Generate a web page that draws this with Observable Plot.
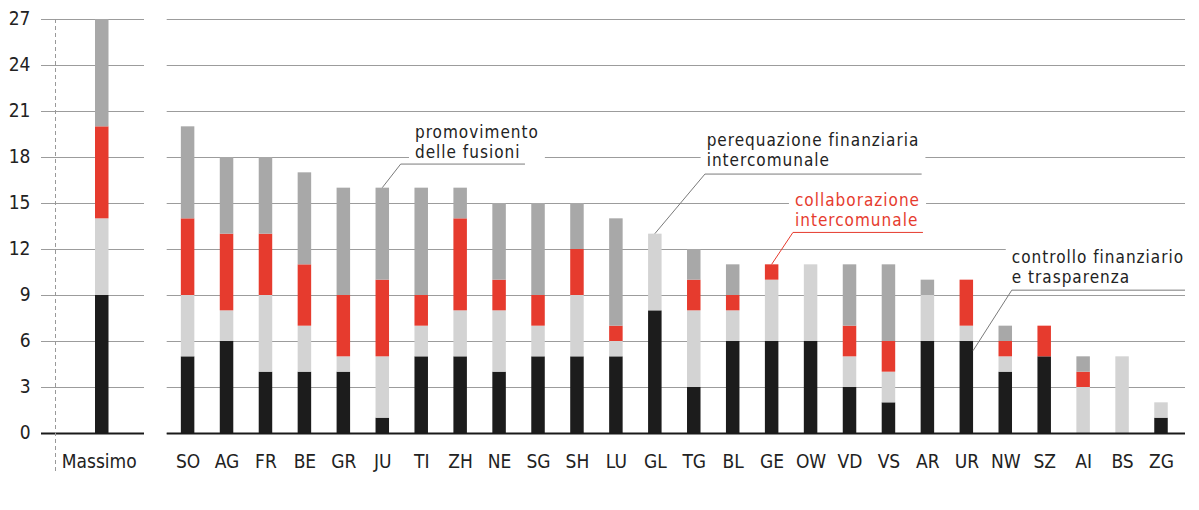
<!DOCTYPE html>
<html>
<head>
<meta charset="utf-8">
<script src="https://cdn.jsdelivr.net/npm/d3@7"></script>
<script src="https://cdn.jsdelivr.net/npm/@observablehq/plot@0.6"></script>
<style>
  html, body { margin: 0; padding: 0; background: #fff; }
  #chart { position: relative; width: 1199px; height: 510px; display: flex; flex-direction: row; overflow: hidden; }
  #chart svg { display: block; flex: none; }
</style>
</head>
<body>
<div id="chart"></div>
<script>
// ---------- data ----------
const categories = [
  "controllo finanziario e trasparenza",
  "perequazione finanziaria intercomunale",
  "collaborazione intercomunale",
  "promovimento delle fusioni"
];
const maxLabel = "Massimo";
const maxValues = [9, 5, 6, 7];
const cantons = ["SO","AG","FR","BE","GR","JU","TI","ZH","NE","SG","SH","LU","GL","TG","BL","GE","OW","VD","VS","AR","UR","NW","SZ","AI","BS","ZG"];
const controllo      = [5,6,4,4,4,1,5,5,4,5,5,5,8,3,6,6,6,3,2,6,6,4,5,0,0,1];
const perequazione   = [4,2,5,3,1,4,2,3,4,2,4,1,5,5,2,4,5,2,2,3,1,1,0,3,5,1];
const collaborazione = [5,5,4,4,4,5,2,6,2,2,3,1,0,2,1,1,0,2,2,0,3,1,2,1,0,0];
const fusioni        = [6,5,5,6,7,6,7,2,5,6,3,7,0,2,2,0,0,4,5,1,0,1,0,1,0,0];
const yTicks = [0,3,6,9,12,15,18,21,24,27];
const annotationLines = [
  ["promovimento", "delle fusioni"],
  ["perequazione finanziaria", "intercomunale"],
  ["collaborazione", "intercomunale"],
  ["controllo finanziario", "e trasparenza"]
];
const annotationCantons = ["JU", "GL", "GE", "UR"];
const annotationValues = [16, 13, 11, 5.37];

// ---------- styling ----------
const colors = ["#1c1c1c", "#d3d3d3", "#e63b2e", "#a8a8a8"];
const FONT = "'DejaVu Sans Condensed', 'DejaVu Sans', sans-serif";
const textColor = "#222";
const gridColor = "#9c9c9c";
const step = 38.94, bw = 13.5;
const pIn = 1 - bw / step;

const series = [controllo, perequazione, collaborazione, fusioni];
const rows = [];
cantons.forEach((c, i) => series.forEach((s, k) => rows.push({canton: c, cat: categories[k], value: s[i]})));
const maxRows = maxValues.map((v, k) => ({canton: maxLabel, cat: categories[k], value: v}));

const common = {
  height: 510, marginTop: 19, marginBottom: 77,
  y: {domain: [0, 27], axis: null},
  color: {domain: categories, range: colors},
  style: {fontFamily: FONT, fontSize: "19px", color: textColor, background: "white"}
};

// Panel A: Massimo + y axis
const widthA = 155;
const plotA = Plot.plot({
  ...common,
  width: widthA, marginLeft: 41, marginRight: 11,
  x: {domain: [maxLabel], range: [101.75 - step/2, 101.75 + step/2], paddingInner: pIn, paddingOuter: pIn/2, round: false, axis: null},
  marks: [
    Plot.gridY(yTicks, {stroke: gridColor, strokeOpacity: 1}),
    Plot.barY(maxRows, {x: "canton", y: "value", fill: "cat"}),
    Plot.ruleY([0], {stroke: "#1a1a1a", strokeWidth: 2}),
    Plot.axisY(yTicks, {tickSize: 0, tickPadding: 11, fontSize: 19, fill: textColor, tickFormat: d => d, dy: -1, label: null}),
    Plot.axisX({tickSize: 0, tickPadding: 21, fontSize: 19, fill: textColor, dx: -3, label: null})
  ]
});

// Panel B: cantons
const offB = widthA;
const plotB = Plot.plot({
  ...common,
  width: 1199 - widthA, marginLeft: 166.7 - offB, marginRight: 14,
  x: {domain: cantons, range: [187.6 - step/2 - offB, 1161 + step/2 - offB], paddingInner: pIn, paddingOuter: pIn/2, round: false, axis: null},
  marks: [
    Plot.gridY(yTicks, {stroke: gridColor, strokeOpacity: 1}),
    Plot.barY(rows, {x: "canton", y: "value", fill: "cat"}),
    Plot.ruleY([0], {stroke: "#1a1a1a", strokeWidth: 2}),
    Plot.axisX({tickSize: 0, tickPadding: 21, fontSize: 19, fill: textColor, label: null})
  ]
});

const chart = document.getElementById("chart");
chart.appendChild(plotA);
chart.appendChild(plotB);

// dashed separator in panel A
{
  const y = plotA.scale("y");
  d3.select(plotA).append("line")
    .attr("x1", 55.5).attr("x2", 55.5)
    .attr("y1", y.apply(27)).attr("y2", 471)
    .attr("stroke", "#999").attr("stroke-width", 1).attr("stroke-dasharray", "4,3");
}

// annotations in panel B
{
  const x = plotB.scale("x"), y = plotB.scale("y");
  const g = d3.select(plotB).append("g")
    .attr("font-family", FONT).attr("font-size", 17).attr("letter-spacing", "1px")
    .attr("text-anchor", "start");
  // layout (pixels) relative to the anchor point: elbow offset, text offset from elbow, underline length
  const layout = [
    {anchorX: "center", ex: 18.4, ey: -23.6, tx: 14.3, ty: -5.8, len: 124.3, color: "#222", line: "#7a7a7a"},
    {anchorX: "center", ex: 50.1, ey: -59.6, tx: 1.7, ty: -7.6, len: 216.7, color: "#222", line: "#7a7a7a"},
    {anchorX: "center", ex: 21.3, ey: -31.9, tx: 2.0, ty: -6.0, len: 130, color: "#e63b2e", line: "#e63b2e"},
    {anchorX: "right", ex: 38.7, ey: -60.5, tx: 0.0, ty: -7.0, len: null, color: "#222", line: "#7a7a7a"}
  ];
  const frameRight = plotB.getAttribute("width") - 14;
  annotationLines.forEach((lines, i) => {
    const L = layout[i];
    const bx = x.apply(annotationCantons[i]);
    const ax = L.anchorX === "center" ? bx + x.bandwidth / 2 : bx + x.bandwidth;
    const ay = y.apply(annotationValues[i]);
    const exx = ax + L.ex, eyy = ay + L.ey;
    const tx = exx + L.tx, ty = eyy + L.ty;
    const t = g.append("text").attr("fill", L.color).attr("x", tx).attr("y", ty).attr("text-anchor", "start");
    lines.forEach((ln, j) => {
      t.append("tspan").attr("x", tx).attr("y", ty - (lines.length - 1 - j) * 20).text(ln);
    });
    const bb = t.node().getBBox();
    g.insert("rect", () => t.node())
      .attr("x", bb.x - 6).attr("y", bb.y - 1)
      .attr("width", bb.width + 12).attr("height", bb.height + 2)
      .attr("fill", "white");
    const x2 = L.len == null ? frameRight : exx + L.len;
    g.append("line").attr("x1", exx).attr("x2", x2).attr("y1", eyy).attr("y2", eyy)
      .attr("stroke", L.line).attr("stroke-width", 1);
    g.append("line").attr("x1", ax).attr("y1", ay).attr("x2", exx).attr("y2", eyy)
      .attr("stroke", L.line).attr("stroke-width", 1);
  });
}
</script>
</body>
</html>
